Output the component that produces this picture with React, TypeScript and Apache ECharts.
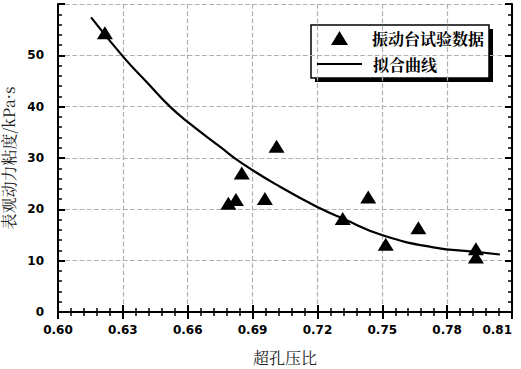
import React, { useEffect, useRef } from "react";
import * as echarts from "echarts";

// 试验数据 (超孔压比, 表观动力粘度)
const ratioData = [0.6217, 0.6788, 0.6823, 0.685, 0.6957, 0.7011, 0.7317, 0.7435, 0.7516, 0.7667, 0.7933, 0.7933];
const viscosityData = [54.4, 21.2, 21.9, 27.1, 22.1, 32.3, 18.2, 22.4, 13.2, 16.4, 12.3, 10.7];

// 拟合曲线
const curveX = [0.6153, 0.6302, 0.641, 0.6518, 0.661, 0.6749, 0.685, 0.7027, 0.7212, 0.7317, 0.7505, 0.7736, 0.7933, 0.8044];
const curveY = [57.4, 49.7, 44.8, 40.0, 36.7, 32.2, 29.0, 24.4, 20.2, 18.2, 14.9, 12.6, 11.7, 11.2];

const xMin = 0.6;
const xMax = 0.81;
const xStep = 0.03;
const yMin = 0;
const yMax = 60;
const yStep = 10;

const seriesNames = ["振动台试验数据", "拟合曲线"];
const xName = "超孔压比";
const yName = "表观动力粘度/kPa·s";

const cjk = '"Noto Serif CJK SC", "Noto Sans CJK SC", serif';
const tickFont = '"DejaVu Sans", Verdana, sans-serif';

const mkLine = () => ({ show: true, lineStyle: { color: "#000", width: 2 } });
const mkTick = () => ({ show: true, inside: true, length: 7, lineStyle: { color: "#000", width: 2 } });
const mkMinor = () => ({ show: true, splitNumber: 5, length: 4, lineStyle: { color: "#000", width: 1.5 } });
const mkSplit = () => ({ show: true, lineStyle: { color: "#b0b0b0", width: 1.2, type: "dashed" } });

export default function App() {
  const ref = useRef<HTMLDivElement>(null);
  useEffect(() => {
    if (!ref.current) return;
    const chart = echarts.init(ref.current, undefined, { renderer: "svg" });
    const pts = ratioData.map((x, i) => [x, viscosityData[i]]);
    const curve = curveX.map((x, i) => [x, curveY[i]]);
    chart.setOption({
      animation: false,
      backgroundColor: "#fff",
      grid: { left: 58, top: 4, right: 9, bottom: 57, containLabel: false, outerBoundsMode: "none" },
      xAxis: [
        {
          type: "value",
          position: "bottom",
          min: xMin,
          max: xMax,
          interval: xStep,
          axisLine: mkLine(),
          axisTick: mkTick(),
          minorTick: mkMinor(),
          splitLine: mkSplit(),
          name: xName,
          nameLocation: "middle",
          nameGap: 37,
          nameTextStyle: { fontFamily: cjk, fontSize: 16, color: "#222" },
          axisLabel: {
            margin: 12,
            fontFamily: tickFont,
            fontWeight: "bold",
            fontSize: 12,
            color: "#000",
            alignMaxLabel: "right",
            formatter: (v: number) => v.toFixed(2),
          },
        },
        {
          type: "value",
          position: "top",
          min: xMin,
          max: xMax,
          interval: xStep,
          axisLine: mkLine(),
          axisTick: mkTick(),
          minorTick: mkMinor(),
          splitLine: { show: false },
          axisLabel: { show: false },
        },
      ],
      yAxis: [
        {
          type: "value",
          position: "left",
          min: yMin,
          max: yMax,
          interval: yStep,
          axisLine: mkLine(),
          axisTick: mkTick(),
          minorTick: mkMinor(),
          splitLine: mkSplit(),
          name: yName,
          nameLocation: "middle",
          nameGap: 37,
          nameTextStyle: { fontFamily: cjk, fontSize: 16, color: "#222" },
          axisLabel: {
            margin: 14,
            fontFamily: tickFont,
            fontWeight: "bold",
            fontSize: 12,
            color: (v: any) => (Number(v) >= yMax ? "rgba(0,0,0,0)" : "#000"),
          },
        },
        {
          type: "value",
          position: "right",
          min: yMin,
          max: yMax,
          interval: yStep,
          axisLine: mkLine(),
          axisTick: mkTick(),
          minorTick: mkMinor(),
          splitLine: { show: false },
          axisLabel: { show: false },
        },
      ],
      legend: [
        {
          data: [seriesNames[0]],
          left: 331,
          top: 30,
          padding: 0,
          itemWidth: 17,
          itemHeight: 14,
          textStyle: { fontFamily: cjk, fontSize: 16, fontWeight: "bold", color: "#000", padding: [0, 0, 0, 19] },
        },
        {
          data: [seriesNames[1]],
          left: 317,
          top: 56,
          padding: 0,
          icon: "rect",
          itemWidth: 45,
          itemHeight: 2,
          textStyle: { fontFamily: cjk, fontSize: 16, fontWeight: "bold", color: "#000", padding: [0, 0, 0, 6] },
        },
      ],
      graphic: [
        {
          type: "group",
          silent: true,
          z: -1,
          children: [
            { type: "rect", shape: { x: 315, y: 29, width: 178, height: 53 }, style: { fill: "#000" } },
            { type: "rect", shape: { x: 311, y: 25, width: 178, height: 53 }, style: { fill: "#fff", stroke: "#000", lineWidth: 1.5 } },
          ],
        },
      ],
      series: [
        {
          name: seriesNames[0],
          type: "scatter",
          data: pts,
          symbol: "triangle",
          symbolSize: [16, 13],
          itemStyle: { color: "#000", opacity: 1 },
        },
        {
          name: seriesNames[1],
          type: "line",
          data: curve,
          smooth: true,
          showSymbol: false,
          symbol: "none",
          lineStyle: { color: "#000", width: 2.2 },
          itemStyle: { color: "#000" },
        },
      ],
    });
    return () => chart.dispose();
  }, []);
  return (
    <div style={{ position: "fixed", left: 0, top: 0, width: 521, height: 369 }}>
      <div ref={ref} style={{ width: 521, height: 369 }} />
    </div>
  );
}
